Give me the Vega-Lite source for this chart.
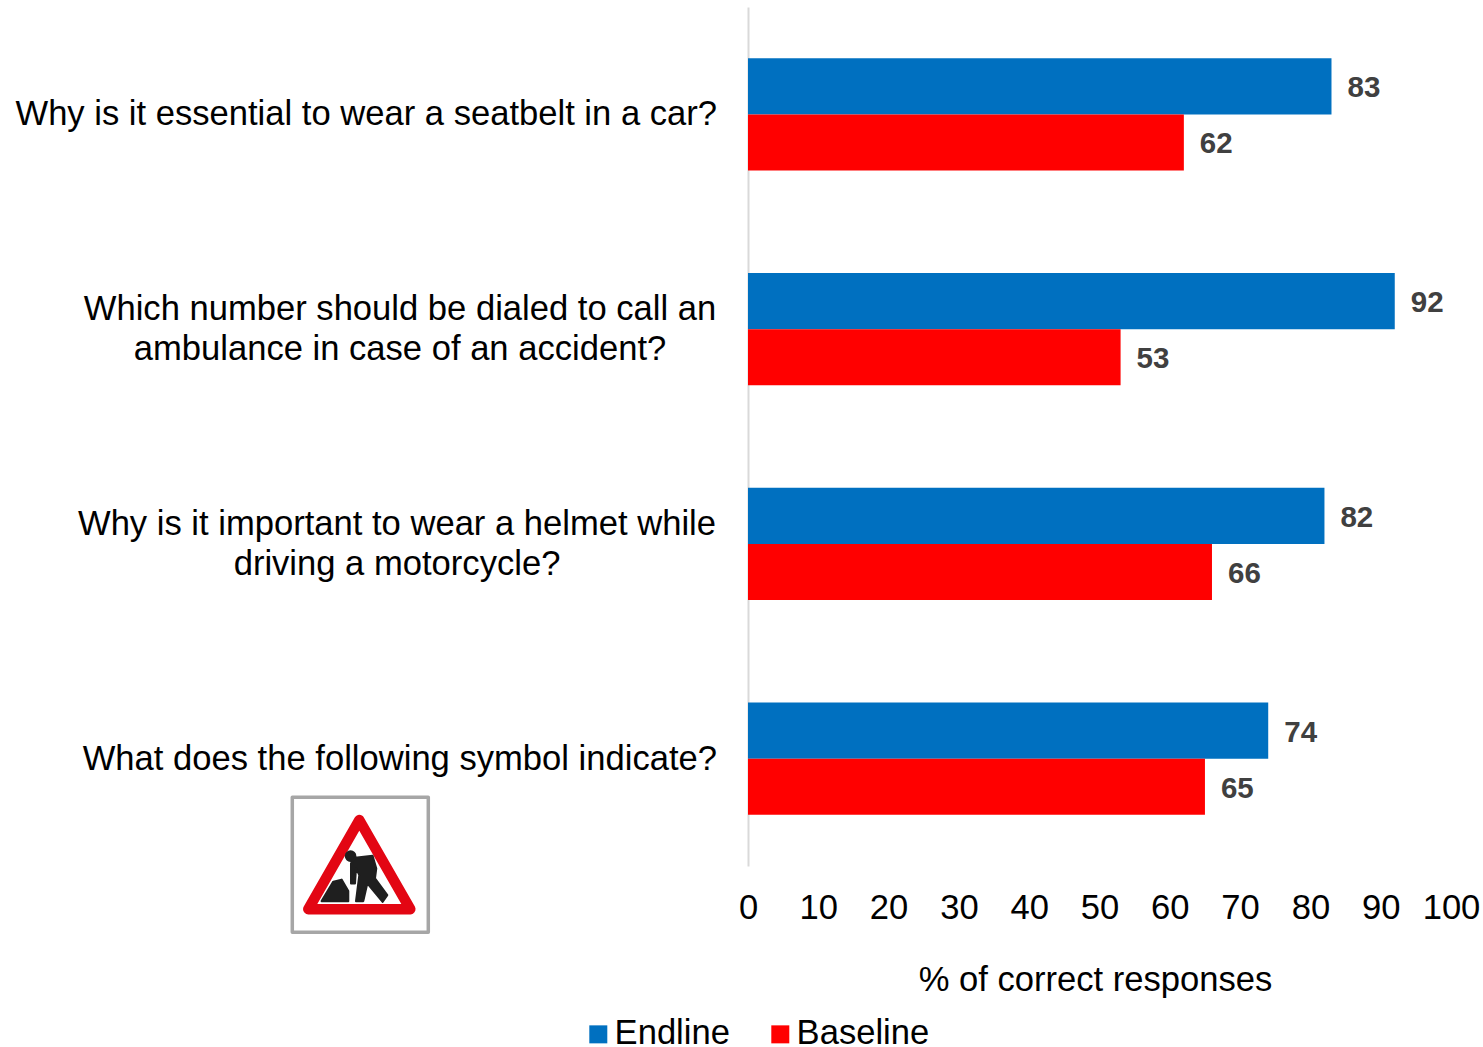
{"$schema":"https://vega.github.io/schema/vega-lite/v6.json","width":703,"height":859,"autosize":{"type":"none"},"padding":{"left":748,"top":7,"right":32,"bottom":181},"background":"white","config":{"view":{"stroke":null},"font":"Liberation Sans"},"datasets":{"bars":[{"question":"Q1","series":"Endline","value":83},{"question":"Q1","series":"Baseline","value":62},{"question":"Q2","series":"Endline","value":92},{"question":"Q2","series":"Baseline","value":53},{"question":"Q3","series":"Endline","value":82},{"question":"Q3","series":"Baseline","value":66},{"question":"Q4","series":"Endline","value":74},{"question":"Q4","series":"Baseline","value":65}],"labels":[{"question":"Q1","label":"Why is it essential to wear a seatbelt in a car?"},{"question":"Q2","label":"Which number should be dialed to call an\nambulance in case of an accident?"},{"question":"Q3","label":"Why is it important to wear a helmet while\ndriving a motorcycle?"},{"question":"Q4","label":"What does the following symbol indicate?"}]},"layer":[{"data":{"name":"bars"},"mark":{"type":"bar"},"encoding":{"y":{"field":"question","type":"nominal","sort":null,"scale":{"domain":["Q1","Q2","Q3","Q4"],"paddingInner":0.478,"paddingOuter":0.239},"axis":{"title":null,"labels":false,"ticks":false,"domainColor":"#d9d9d9","domainWidth":2}},"yOffset":{"field":"series","type":"nominal","sort":["Endline","Baseline"],"scale":{"domain":["Endline","Baseline"],"paddingInner":0,"paddingOuter":0}},"x":{"field":"value","type":"quantitative","scale":{"domain":[0,100],"nice":false},"axis":{"title":"% of correct responses","values":[0,10,20,30,40,50,60,70,80,90,100],"grid":false,"domain":false,"ticks":false,"labelFontSize":34.6,"labelColor":"#000000","labelPadding":25,"titleFontSize":34.6,"titleFontWeight":"normal","titleColor":"#000000","titlePadding":39,"titleX":347,"labelFlush":false}},"color":{"field":"series","type":"nominal","sort":["Endline","Baseline"],"scale":{"domain":["Endline","Baseline"],"range":["#0070c0","#ff0000"]},"legend":{"title":null,"orient":"none","legendX":-167,"legendY":1010,"direction":"horizontal","columns":2,"symbolType":"square","symbolSize":324,"symbolStrokeWidth":0,"labelFontSize":34.6,"labelColor":"#000000","labelOffset":-1,"columnPadding":33,"padding":0}}}},{"data":{"name":"bars"},"mark":{"type":"text","align":"left","baseline":"middle","dx":16,"dy":2,"fontSize":29.5,"fontWeight":"bold","color":"#404040"},"encoding":{"y":{"field":"question","type":"nominal","sort":null},"yOffset":{"field":"series","type":"nominal","sort":["Endline","Baseline"]},"x":{"field":"value","type":"quantitative"},"text":{"field":"value","type":"quantitative"}}},{"data":{"name":"labels"},"transform":[{"filter":"datum.question==='Q1'"}],"mark":{"type":"text","align":"right","baseline":"middle","dx":-31,"dy":1,"fontSize":34.6,"color":"#000000"},"encoding":{"y":{"field":"question","type":"nominal","sort":null},"x":{"datum":0},"text":{"field":"label"}}},{"data":{"name":"labels"},"transform":[{"filter":"datum.question==='Q2'"}],"mark":{"type":"text","align":"center","baseline":"middle","dx":-348,"dy":-19,"fontSize":34.6,"lineHeight":40,"lineBreak":"\n","color":"#000000"},"encoding":{"y":{"field":"question","type":"nominal","sort":null},"x":{"datum":0},"text":{"field":"label"}}},{"data":{"name":"labels"},"transform":[{"filter":"datum.question==='Q3'"}],"mark":{"type":"text","align":"center","baseline":"middle","dx":-351,"dy":-19,"fontSize":34.6,"lineHeight":40,"lineBreak":"\n","color":"#000000"},"encoding":{"y":{"field":"question","type":"nominal","sort":null},"x":{"datum":0},"text":{"field":"label"}}},{"data":{"name":"labels"},"transform":[{"filter":"datum.question==='Q4'"}],"mark":{"type":"text","align":"right","baseline":"middle","dx":-31,"dy":1,"fontSize":34.6,"color":"#000000"},"encoding":{"y":{"field":"question","type":"nominal","sort":null},"x":{"datum":0},"text":{"field":"label"}}},{"data":{"values":[{"question":"Q4"}]},"mark":{"type":"point","size":4,"xOffset":-387.7,"yOffset":106,"filled":true,"fill":"#ffffff","stroke":"#a6a6a6","strokeWidth":3.5,"strokeJoin":"round","opacity":1,"shape":"M-68,-67.5L68,-67.5L68,67.5L-68,67.5Z"},"encoding":{"y":{"field":"question","type":"nominal","sort":null},"x":{"datum":0}}},{"data":{"values":[{"question":"Q4"}]},"mark":{"type":"point","size":4,"xOffset":-387.7,"yOffset":106,"filled":true,"fill":"#ffffff","stroke":"#e30613","strokeWidth":10.5,"strokeJoin":"round","opacity":1,"shape":"M-1,-44.5L50,44.5L-52,44.5Z"},"encoding":{"y":{"field":"question","type":"nominal","sort":null},"x":{"datum":0}}},{"data":{"values":[{"question":"Q4"}]},"mark":{"type":"point","size":4,"xOffset":-387.7,"yOffset":106,"filled":true,"fill":"#1f1f1f","stroke":"#1f1f1f","strokeWidth":2,"strokeJoin":"round","opacity":1,"shape":"M-38.7,36.5L-27,17L-18.7,15L-12,26.5L-12,36.5ZM-5.3,-6.8L12.3,-8.8L16,3.8L14.7,13.8L27,30.5L22.3,37.2L7,18.8L3,36.5L-4.3,36.5L-1,10.5L-4.3,3.8L-5.3,18.8L-9.3,18.8L-9.3,-1.2ZM-14.5,-8.5A4.8,4.8 0 1 1 -4.9,-8.5A4.8,4.8 0 1 1 -14.5,-8.5Z"},"encoding":{"y":{"field":"question","type":"nominal","sort":null},"x":{"datum":0}}}]}
